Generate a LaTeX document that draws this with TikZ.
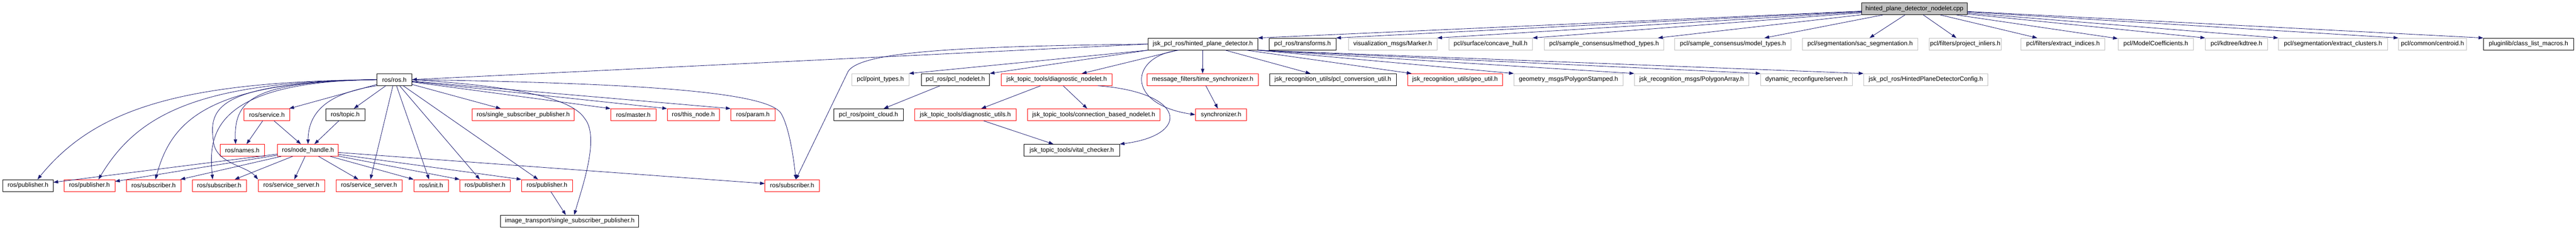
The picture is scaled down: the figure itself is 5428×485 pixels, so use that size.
\documentclass[tikz,border=0pt]{standalone}
\usepackage{fontspec}
\setmainfont{Liberation Sans}
\usetikzlibrary{arrows.meta}
\definecolor{edgeblue}{HTML}{191970}
\definecolor{boxgrey}{HTML}{BFBFBF}

\begin{document}
\begin{tikzpicture}[x=1pt,y=1pt,
  every node/.style={draw,rectangle,inner sep=0pt,minimum height=25pt,line width=0.9pt,font=\fontsize{13.2}{15}\selectfont},
  blackbox/.style={draw=black},
  redbox/.style={draw=red},
  greybox/.style={draw=boxgrey},
  edge/.style={draw=edgeblue,line width=0.9pt,-{Triangle[length=10pt,width=7pt]}}]
\useasboundingbox (0,0) rectangle (5428,-485);
\def\rA{-18.5}\def\rB{-93}\def\rC{-168}\def\rD{-242}\def\rE{-317}\def\rF{-391.5}\def\rG{-466.5}

\node[fill=boxgrey,draw=black,minimum width=222] (root) at (4034,\rA) {hinted\_plane\_detector\_nodelet.cpp};

% includes of the nodelet
\foreach \n/\x/\w/\t in {hpd/2534.5/231/{jsk\_pcl\_ros/hinted\_plane\_detector.h},transforms/2744.5/141/{pcl\_ros/transforms.h},classlist/5328/190/{pluginlib/class\_list\_macros.h}}
	\node[blackbox,minimum width=\w] (\n) at (\x,\rB) {\t};
\foreach \n/\x/\w/\t in {marker/2934.5/187/{visualization\_msgs/Marker.h},concavehull/3141/176/{pcl/surface/concave\_hull.h},methodtypes/3380/252/{pcl/sample\_consensus/method\_types.h},modeltypes/3651.5/245/{pcl/sample\_consensus/model\_types.h},sacseg/3919.5/243/{pcl/segmentation/sac\_segmentation.h},projinliers/4141/152/{pcl/filters/project\_inliers.h},extractind/4347/177/{pcl/filters/extract\_indices.h},modelcoeff/4542.5/159/{pcl/ModelCoefficients.h},kdtree/4712.5/131/{pcl/kdtree/kdtree.h},extractclusters/4916/230/{pcl/segmentation/extract\_clusters.h},centroid/5125.5/143/{pcl/common/centroid.h}}
	\node[greybox,minimum width=\w] (\n) at (\x,\rB) {\t};

% second row
\foreach \n/\x/\w/\t in {rosros/831/74/{ros/ros.h},pclnodelet/2013/144/{pcl\_ros/pcl\_nodelet.h},pclconv/2808.5/267/{jsk\_recognition\_utils/pcl\_conversion\_util.h}}
	\node[blackbox,minimum width=\w] (\n) at (\x,\rC) {\t};
\foreach \n/\x/\w/\t in {diagnodelet/2226.5/233/{jsk\_topic\_tools/diagnostic\_nodelet.h},timesync/2534/234/{message\_filters/time\_synchronizer.h},geoutil/3066/200/{jsk\_recognition\_utils/geo\_util.h}}
	\node[redbox,minimum width=\w] (\n) at (\x,\rC) {\t};
\foreach \n/\x/\w/\t in {pointtypes/1855/120/{pcl/point\_types.h},polystamped/3305/230/{geometry\_msgs/PolygonStamped.h},polyarray/3564.5/241/{jsk\_recognition\_msgs/PolygonArray.h},dynreconf/3806.5/193/{dynamic\_reconfigure/server.h},hpdconfig/4058/262/{jsk\_pcl\_ros/HintedPlaneDetectorConfig.h}}
	\node[greybox,minimum width=\w] (\n) at (\x,\rC) {\t};

% third row
\foreach \n/\x/\w/\t in {topic/727.5/83/{ros/topic.h},pointcloud/1830/146/{pcl\_ros/point\_cloud.h}}
	\node[blackbox,minimum width=\w] (\n) at (\x,\rD) {\t};
\foreach \n/\x/\w/\t in {service/562.5/97/{ros/service.h},singlesubpub/1102.5/215/{ros/single\_subscriber\_publisher.h},master/1334.5/95/{ros/master.h},thisnode/1461/110/{ros/this\_node.h},param/1586.5/93/{ros/param.h},diagutils/2034/214/{jsk\_topic\_tools/diagnostic\_utils.h},connbased/2304.5/279/{jsk\_topic\_tools/connection\_based\_nodelet.h},synchronizer/2573/108/{synchronizer.h}}
	\node[redbox,minimum width=\w] (\n) at (\x,\rD) {\t};

% fourth row
\node[redbox,minimum width=93] (names) at (510.5,\rE) {ros/names.h};
\node[redbox,minimum width=128] (nodehandle) at (649,\rE) {ros/node\_handle.h};
\node[blackbox,minimum width=201] (vitalchecker) at (2258.5,\rE) {jsk\_topic\_tools/vital\_checker.h};

% fifth and sixth row
\node[blackbox,minimum width=106] (pub1) at (59,\rF) {ros/publisher.h};
\foreach \n/\x/\w/\t in {pub2/188.5/107/{ros/publisher.h},sub1/323.5/115/{ros/subscriber.h},sub2/462/114/{ros/subscriber.h},srv1/614/140/{ros/service\_server.h},srv2/777.5/139/{ros/service\_server.h},init/908.5/73/{ros/init.h},pub3/1022/106/{ros/publisher.h},pub4/1152.5/107/{ros/publisher.h},sub3/1669/114/{ros/subscriber.h}}
	\node[redbox,minimum width=\w] (\n) at (\x,\rF) {\t};
\node[blackbox,minimum width=291] (itsinglesub) at (1200.5,\rG) {image\_transport/single\_subscriber\_publisher.h};

% root edges
\foreach \b in {hpd,transforms,marker,concavehull}
	\draw[edge] (root) -- (\b.north east);
\foreach \b in {methodtypes,modeltypes,sacseg,projinliers,extractind,modelcoeff}
	\draw[edge] (root) -- (\b);
\foreach \b in {kdtree,extractclusters,centroid,classlist}
	\draw[edge] (root) -- (\b.north west);

% hinted_plane_detector.h
\draw[edge] (hpd.west) -- (rosros.east);
\foreach \b in {pointtypes,pclnodelet}
	\draw[edge] (hpd.south west) -- (\b.north east);
\foreach \b in {diagnodelet,timesync,pclconv,geoutil}
	\draw[edge] (hpd) -- (\b);
\foreach \b in {polystamped,polyarray,dynreconf,hpdconfig}
	\draw[edge] (hpd.south east) -- (\b.north west);
\draw[edge] (hpd.west) .. controls (2000,-98) and (1800,-110) .. (1785,-155) -- ([xshift=8pt]sub3.north);
\draw[edge] ([xshift=-50pt]hpd.south) .. controls (2380,-118) and (2370,-220) .. (synchronizer.west);

\draw[edge] (pclnodelet) -- (pointcloud);
\foreach \b in {diagutils,connbased}
	\draw[edge] (diagnodelet) -- (\b);
\draw[edge] ([xshift=-30pt]diagnodelet.south east) .. controls (2500,-195) and (2510,-285) .. (vitalchecker.north east);
\draw[edge] (diagutils) -- (vitalchecker);
\draw[edge] (timesync) -- (synchronizer);

% ros/ros.h
\foreach \b in {service,topic,singlesubpub,srv2,init,pub3,pub4}
	\draw[edge] (rosros) -- (\b);
\foreach \b in {master,thisnode,param}
	\draw[edge] (rosros) -- (\b.north west);
\draw[edge] (rosros.west) .. controls (380,-172) and (200,-230) .. ([xshift=20pt]pub1.north);
\draw[edge] (rosros.west) .. controls (420,-172) and (290,-240) .. ([xshift=19pt]pub2.north);
\draw[edge] (rosros.west) .. controls (430,-172) and (360,-260) .. ([xshift=4pt]sub1.north);
\draw[edge] (rosros.west) .. controls (440,-172) and (440,-290) .. ([xshift=-14pt]sub2.north);
\draw[edge] (rosros.west) .. controls (450,-175) and (440,-230) .. (450,-300) .. controls (455,-345) and (520,-350) .. (srv1.north west);
\draw[edge] (rosros.west) .. controls (544,-173) and (492,-204) .. ([xshift=-14pt]names.north);
\draw[edge] (rosros.south west) .. controls (700,-195) and (650,-230) .. (nodehandle.north);
\draw[edge] (rosros.east) .. controls (1300,-175) and (1610,-190) .. (1645,-238) .. controls (1662,-265) and (1672,-330) .. ([xshift=8pt]sub3.north);
\draw[edge] (rosros.east) .. controls (1050,-180) and (1200,-200) .. (1232,-250) .. controls (1265,-290) and (1225,-400) .. ([xshift=9.5pt]itsinglesub.north);

\foreach \b in {names,nodehandle}
	\draw[edge] (service) -- (\b);
\draw[edge] (topic) -- (nodehandle);

% ros/node_handle.h
\foreach \b in {pub1,pub2,sub1,sub2,srv1,srv2,sub3}
	\draw[edge] (nodehandle) -- (\b);
\foreach \b in {init,pub3,pub4}
	\draw[edge] (nodehandle) -- (\b.north west);
\draw[edge] (pub4) -- (itsinglesub);

\end{tikzpicture}
\end{document}
